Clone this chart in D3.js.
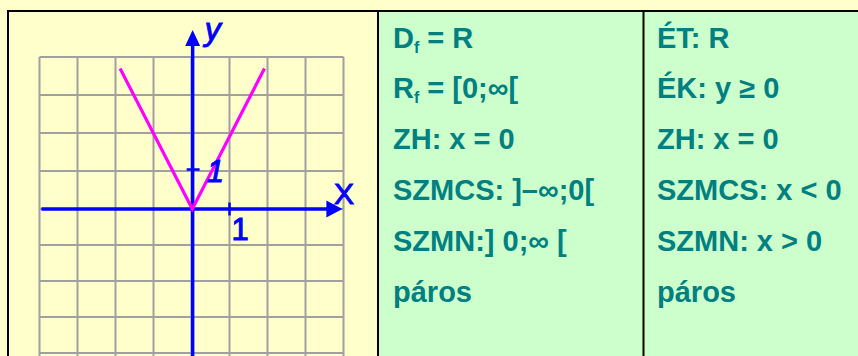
<!DOCTYPE html>
<html>
<head>
<meta charset="utf-8">
<script src="https://cdn.jsdelivr.net/npm/d3@7/dist/d3.min.js"></script>
<style>
  html, body { margin: 0; padding: 0; background: #FFFFCC; }
  svg { display: block; }
</style>
</head>
<body>
<svg id="chart" width="858" height="356"></svg>
<script>
// ---- data ----
const gridTicks = [-4, -3, -2, -1, 0, 1, 2, 3, 4];
const curveX = [-1.9, 0, 1.9];
const curveY = [3.7, 0, 3.7];
const unitTicks = [1];
const axisLabels = ["X", "y"];
const tickLabels = ["1", "1"];
const middleColumn = ["D_f = R", "R_f = [0;∞[", "ZH: x = 0", "SZMCS: ]–∞;0[", "SZMN:] 0;∞ [", "páros"];
const rightColumn = ["ÉT: R", "ÉK: y ≥ 0", "ZH: x = 0", "SZMCS: x < 0", "SZMN: x > 0", "páros"];

// ---- layout ----
const W = 858, H = 356;
const svg = d3.select("#chart");
const blue = "#0000FF", pink = "#FF00FF", teal = "#008080";

// table cells
svg.append("rect").attr("x", 0).attr("y", 0).attr("width", W).attr("height", H).attr("fill", "#FFFFCC");
svg.append("rect").attr("x", 378).attr("y", 11).attr("width", W - 378).attr("height", H).attr("fill", "#CCFFCC");

// scales
const x = d3.scaleLinear().domain([-4, 4]).range([39.5, 343.5]);
const y = d3.scaleLinear().domain([-4, 0, 4]).range([353, 209, 57]);

const g = svg.append("g");
// grid
g.selectAll("line.v").data(gridTicks).join("line")
  .attr("x1", d => x(d)).attr("x2", d => x(d))
  .attr("y1", y(4)).attr("y2", H)
  .attr("stroke", "#A0A0A0").attr("stroke-width", 2);
g.selectAll("line.h").data(gridTicks).join("line")
  .attr("x1", x(-4)).attr("x2", x(4))
  .attr("y1", d => y(d)).attr("y2", d => y(d))
  .attr("stroke", "#A0A0A0").attr("stroke-width", 2);

// axes
const xAxisExt = [-3.95, 3.6];
const yAxisExt = [-4.2, 4.3];
g.append("line").attr("x1", x(xAxisExt[0])).attr("x2", x(xAxisExt[1])).attr("y1", y(0)).attr("y2", y(0))
  .attr("stroke", blue).attr("stroke-width", 3.5);
g.append("line").attr("x1", x(0.03)).attr("x2", x(0.03)).attr("y1", y(yAxisExt[0])).attr("y2", y(yAxisExt[1]))
  .attr("stroke", blue).attr("stroke-width", 3.5);
// arrow heads
const xt = x(3.97), yt = y(4.71), ax = x(0.03);
g.append("path").attr("d", `M${xt},${y(0)} L${xt - 16},${y(0) - 8.5} L${xt - 16},${y(0) + 8.5} Z`).attr("fill", blue);
g.append("path").attr("d", `M${ax},${yt} L${ax - 7.5},${yt + 16} L${ax + 7.5},${yt + 16} Z`).attr("fill", blue);

// unit ticks
g.selectAll("line.xt").data(unitTicks).join("line")
  .attr("x1", d => x(d)).attr("x2", d => x(d)).attr("y1", y(0) - 6.5).attr("y2", y(0) + 6.5)
  .attr("stroke", blue).attr("stroke-width", 2.5);
g.selectAll("line.yt").data(unitTicks).join("line")
  .attr("x1", ax - 6).attr("x2", ax + 7).attr("y1", d => y(d) - 1.5).attr("y2", d => y(d) - 1.5)
  .attr("stroke", blue).attr("stroke-width", 2.5);

// curve
const pts = curveX.map((v, i) => [v, curveY[i]]);
g.append("path").datum(pts)
  .attr("d", d3.line().x(d => x(d[0]) + 0.8).y(d => y(d[1])))
  .attr("fill", "none").attr("stroke", pink).attr("stroke-width", 3.2).attr("stroke-linejoin", "miter");

// labels
const lf = "'Liberation Sans', Arial, sans-serif";
const lab = (t) => t.attr("font-family", lf).attr("fill", blue).attr("stroke", blue).attr("stroke-width", 1);
lab(g.append("text").attr("x", x(3.75)).attr("y", y(0) - 5).text(axisLabels[0]).attr("font-size", 30));
lab(g.append("text").attr("x", ax + 12).attr("y", yt + 10).text(axisLabels[1]).attr("font-size", 32).attr("font-style", "italic"));
lab(g.append("text").attr("x", x(1) + 2).attr("y", y(0) + 31).text(tickLabels[0]).attr("font-size", 31));
lab(g.append("text").attr("x", ax + 14).attr("y", y(1) + 11).text(tickLabels[1]).attr("font-size", 31).attr("font-style", "italic"));

// table borders
svg.append("line").attr("x1", 7).attr("x2", W).attr("y1", 11).attr("y2", 11).attr("stroke", "#000").attr("stroke-width", 2);
svg.append("line").attr("x1", 8).attr("x2", 8).attr("y1", 10).attr("y2", H).attr("stroke", "#000").attr("stroke-width", 2);
svg.append("line").attr("x1", 378).attr("x2", 378).attr("y1", 10).attr("y2", H).attr("stroke", "#000").attr("stroke-width", 2);
svg.append("line").attr("x1", 643.5).attr("x2", 643.5).attr("y1", 10).attr("y2", H).attr("stroke", "#000").attr("stroke-width", 2);

// text columns
function drawColumn(lines, x0) {
  const t = svg.append("g").attr("font-family", lf).attr("font-weight", "bold").attr("font-size", 29).attr("fill", teal);
  lines.forEach((s, i) => {
    const yy = 47.5 + i * 50.8;
    const txt = t.append("text").attr("x", x0).attr("y", yy);
    const m = s.match(/^(.*?)_(.)(.*)$/);
    if (m) {
      txt.append("tspan").text(m[1]);
      txt.append("tspan").attr("font-size", 16).attr("dy", 5).text(m[2]);
      txt.append("tspan").attr("dy", -5).text(m[3]);
    } else {
      txt.text(s);
    }
  });
}
drawColumn(middleColumn, 393);
drawColumn(rightColumn, 657);
</script>
</body>
</html>
